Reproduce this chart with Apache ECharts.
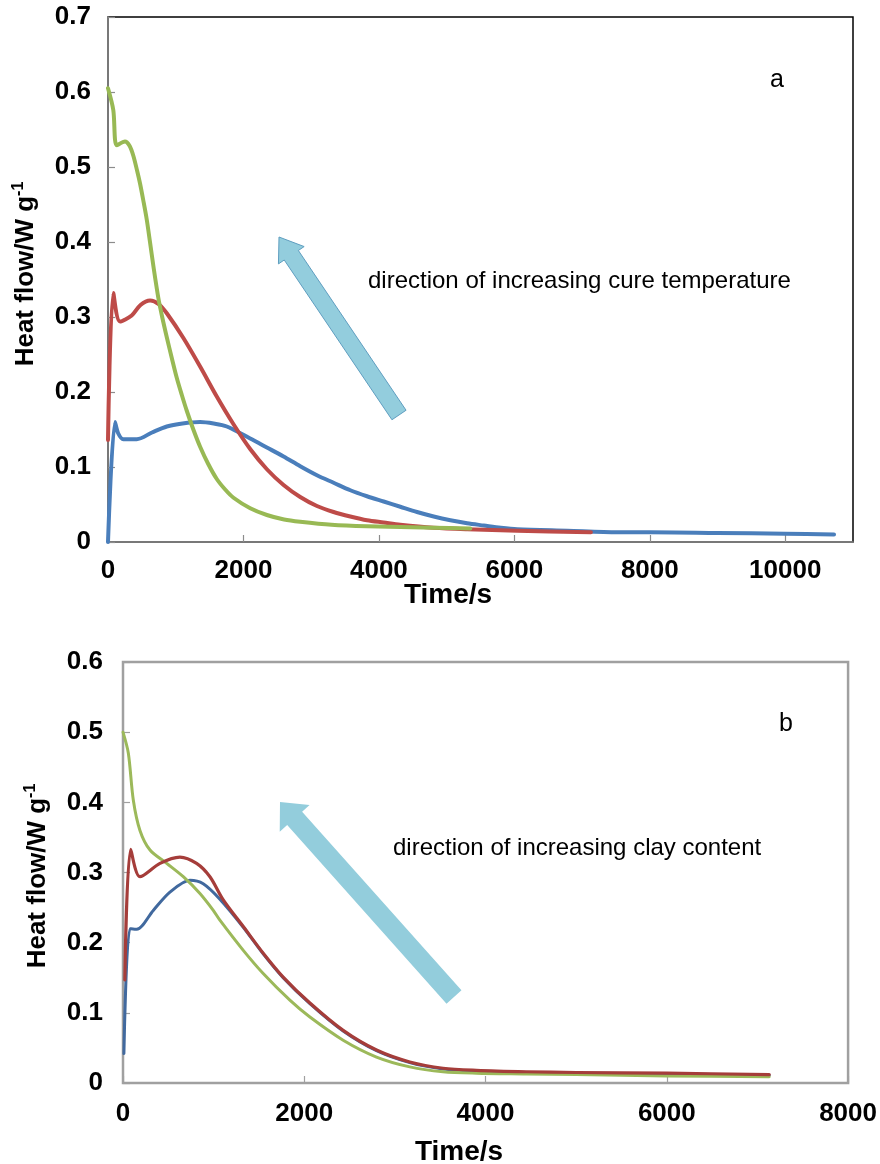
<!DOCTYPE html>
<html>
<head>
<meta charset="utf-8">
<script src="https://cdn.jsdelivr.net/npm/echarts@6/dist/echarts.min.js"></script>
<style>
html,body{margin:0;padding:0;background:#fff;}
#c{width:880px;height:1164px;}
</style>
</head>
<body>
<div id="c"></div>
<script>
// ---------- Data: panel a (cure temperature) ----------
const aBlueT = [0, 103, 150, 226, 424, 650, 868, 1100, 1360, 1560, 1754, 2099, 2346, 2592, 2838, 3085, 3331, 3578, 3824, 4070, 4316, 4563, 4809, 5056, 5302, 5549, 5800, 6042, 6781, 7520, 8000, 9000, 10000, 10720];
const aBlueY = [0, 0.160, 0.145, 0.137, 0.137, 0.146, 0.154, 0.158, 0.160, 0.158, 0.154, 0.138, 0.126, 0.114, 0.101, 0.089, 0.079, 0.069, 0.061, 0.054, 0.047, 0.040, 0.034, 0.029, 0.025, 0.022, 0.019, 0.017, 0.015, 0.013, 0.013, 0.012, 0.011, 0.010];

const aRedT = [0, 78, 177, 350, 480, 621, 750, 868, 1113, 1360, 1606, 1853, 2099, 2346, 2592, 2838, 3085, 3331, 3578, 3824, 4070, 4316, 4809, 5302, 6042, 7130];
const aRedY = [0.136, 0.332, 0.294, 0.302, 0.316, 0.322, 0.317, 0.305, 0.272, 0.234, 0.194, 0.157, 0.124, 0.097, 0.076, 0.060, 0.048, 0.040, 0.034, 0.029, 0.026, 0.023, 0.019, 0.017, 0.015, 0.013];

const aGreenT = [0, 78, 128, 251, 320, 374, 430, 473, 520, 572, 620, 670, 744, 800, 868, 940, 1015, 1090, 1163, 1260, 1360, 1480, 1606, 1730, 1853, 2100, 2346, 2600, 2838, 3300, 3824, 4809, 5350];
const aGreenY = [0.605, 0.576, 0.529, 0.534, 0.528, 0.515, 0.495, 0.478, 0.456, 0.430, 0.400, 0.368, 0.325, 0.300, 0.273, 0.246, 0.219, 0.196, 0.175, 0.150, 0.127, 0.104, 0.084, 0.070, 0.059, 0.045, 0.036, 0.030, 0.027, 0.023, 0.021, 0.019, 0.018];

// ---------- Data: panel b (clay content) ----------
const bBlueT = [10, 77, 151, 334, 518, 739, 885, 1069, 1327, 1547, 1767, 2062, 2429, 2797, 3164, 3531, 3899, 4450, 5000, 6000, 7130];
const bBlueY = [0.042, 0.220, 0.219, 0.246, 0.272, 0.289, 0.284, 0.262, 0.222, 0.184, 0.150, 0.113, 0.074, 0.046, 0.029, 0.020, 0.017, 0.015, 0.014, 0.013, 0.011];

const bRedT = [20, 85, 187, 408, 628, 812, 959, 1106, 1327, 1547, 1767, 2062, 2429, 2797, 3164, 3531, 3899, 4450, 5000, 6000, 7130];
const bRedY = [0.147, 0.333, 0.294, 0.313, 0.322, 0.313, 0.294, 0.261, 0.223, 0.185, 0.151, 0.114, 0.075, 0.047, 0.030, 0.021, 0.018, 0.016, 0.015, 0.014, 0.012];

const bGreenT = [0, 59, 114, 187, 298, 482, 665, 849, 996, 1069, 1327, 1547, 1841, 2062, 2429, 2797, 3164, 3531, 3899, 4450, 5000, 6000, 7130];
const bGreenY = [0.500, 0.470, 0.403, 0.360, 0.332, 0.313, 0.294, 0.270, 0.246, 0.232, 0.189, 0.156, 0.118, 0.094, 0.061, 0.037, 0.023, 0.016, 0.014, 0.013, 0.012, 0.010, 0.009];

// ---------- Axis settings ----------
const aXMax = 11000, aXStep = 2000, aYMax = 0.7, aYStep = 0.1;
const bXMax = 8000, bXStep = 2000, bYMax = 0.6, bYStep = 0.1;

const xTitle = 'Time/s';
const yTitle = 'Heat flow/W g';
const yTitleSup = '-1';
const noteA = 'direction of increasing cure temperature';
const noteB = 'direction of increasing clay content';
const panelA = 'a', panelB = 'b';

// ---------- helpers ----------
function zip(t, y) { return t.map((v, i) => [v, y[i]]); }
const FONT = '"Liberation Sans", Arial, sans-serif';

function arrowPoints(tip, tail, shw, hhw, hl) {
  const dx = tip[0] - tail[0], dy = tip[1] - tail[1];
  const L = Math.hypot(dx, dy);
  const ux = dx / L, uy = dy / L;
  const nx = -uy, ny = ux;
  const bx = tip[0] - ux * hl, by = tip[1] - uy * hl;
  return [
    [tail[0] + nx * shw, tail[1] + ny * shw],
    [bx + nx * shw, by + ny * shw],
    [bx + nx * hhw, by + ny * hhw],
    tip,
    [bx - nx * hhw, by - ny * hhw],
    [bx - nx * shw, by - ny * shw],
    [tail[0] - nx * shw, tail[1] - ny * shw]
  ];
}

const chart = echarts.init(document.getElementById('c'), null, { renderer: 'canvas' });

const labelStyle = { color: '#000', fontFamily: FONT, fontWeight: 'bold', fontSize: 26 };

function mkX(gridIndex, max, step, color, margin) {
  return {
    type: 'value', gridIndex, min: 0, max, interval: step,
    axisLine: { show: true, onZero: false, lineStyle: { color, width: 1.5 } },
    axisTick: { show: true, inside: true, length: 7, lineStyle: { color, width: 1.2 } },
    splitLine: { show: false },
    axisLabel: Object.assign({ margin, showMaxLabel: max % step === 0, formatter: v => String(v) }, labelStyle)
  };
}
function mkY(gridIndex, max, step, color, margin) {
  return {
    type: 'value', gridIndex, min: 0, max, interval: step,
    axisLine: { show: true, onZero: false, lineStyle: { color, width: 1.5 } },
    axisTick: { show: true, inside: true, length: 7, lineStyle: { color, width: 1.2 } },
    splitLine: { show: false },
    axisLabel: Object.assign({ margin, formatter: v => String(Math.round(v * 10) / 10) }, labelStyle)
  };
}
function mkLine(idx, data, color, width) {
  return {
    type: 'line', xAxisIndex: idx, yAxisIndex: idx, data,
    showSymbol: false, smooth: 0.3, animation: false,
    lineStyle: { color, width, cap: 'round', join: 'round' }
  };
}

const arrowA = arrowPoints([279, 237], [399, 415], 8.5, 15.5, 22);
const arrowB = arrowPoints([280, 802], [454, 997], 10, 20, 22);

function yTitleText(cx, cy) {
  return {
    type: 'text', x: cx, y: cy, rotation: Math.PI / 2,
    style: {
      text: '{m|' + yTitle + '}{s|' + yTitleSup + '}',
      align: 'center', verticalAlign: 'middle',
      rich: {
        m: { fontFamily: FONT, fontWeight: 'bold', fontSize: 26, fill: '#000', verticalAlign: 'bottom' },
        s: { fontFamily: FONT, fontWeight: 'bold', fontSize: 16, fill: '#000', verticalAlign: 'top', padding: [0, 0, 12, 0] }
      }
    }
  };
}

const option = {
  backgroundColor: '#fff',
  animation: false,
  grid: [
    { left: 108, top: 17, width: 745, height: 525, show: true, borderColor: '#000', borderWidth: 1.5, backgroundColor: 'transparent' },
    { left: 123, top: 662, width: 726, height: 421, show: true, borderColor: '#a0a0a0', borderWidth: 2.5, backgroundColor: 'transparent' }
  ],
  xAxis: [
    mkX(0, aXMax, aXStep, '#8c8c8c', 16),
    mkX(1, bXMax, bXStep, '#a0a0a0', 18)
  ],
  yAxis: [
    mkY(0, aYMax, aYStep, '#8c8c8c', 17),
    mkY(1, bYMax, bYStep, '#a0a0a0', 20)
  ],
  series: [
    mkLine(0, zip(aBlueT, aBlueY), '#4a7ebb', 4),
    mkLine(0, zip(aRedT, aRedY), '#be4b48', 4),
    mkLine(0, zip(aGreenT, aGreenY), '#98b954', 4),
    mkLine(1, zip(bBlueT, bBlueY), '#41699e', 3),
    mkLine(1, zip(bGreenT, bGreenY), '#9cb95a', 3),
    mkLine(1, zip(bRedT, bRedY), '#a53d3a', 3.2)
  ],
  graphic: [
    { type: 'polygon', shape: { points: arrowA }, style: { fill: '#93cddd', stroke: '#5f9ec0', lineWidth: 1 }, z: 5 },
    { type: 'polygon', shape: { points: arrowB }, style: { fill: '#93cddc' }, z: 5 },
    { type: 'text', x: 368, y: 281, style: { text: noteA, fontFamily: FONT, fontSize: 24, fill: '#000', verticalAlign: 'middle' }, z: 6 },
    { type: 'text', x: 393, y: 848, style: { text: noteB, fontFamily: FONT, fontSize: 24, fill: '#000', verticalAlign: 'middle' }, z: 6 },
    { type: 'text', x: 777, y: 80, style: { text: panelA, fontFamily: FONT, fontSize: 25, fill: '#000', align: 'center', verticalAlign: 'middle' }, z: 6 },
    { type: 'text', x: 786, y: 724, style: { text: panelB, fontFamily: FONT, fontSize: 25, fill: '#000', align: 'center', verticalAlign: 'middle' }, z: 6 },
    { type: 'text', x: 448, y: 595, style: { text: xTitle, fontFamily: FONT, fontWeight: 'bold', fontSize: 28, fill: '#000', align: 'center', verticalAlign: 'middle' }, z: 6 },
    { type: 'text', x: 459, y: 1152, style: { text: xTitle, fontFamily: FONT, fontWeight: 'bold', fontSize: 28, fill: '#000', align: 'center', verticalAlign: 'middle' }, z: 6 },
    Object.assign(yTitleText(25, 274), { z: 6 }),
    Object.assign(yTitleText(37, 876), { z: 6 })
  ]
};
chart.setOption(option);
</script>
</body>
</html>
